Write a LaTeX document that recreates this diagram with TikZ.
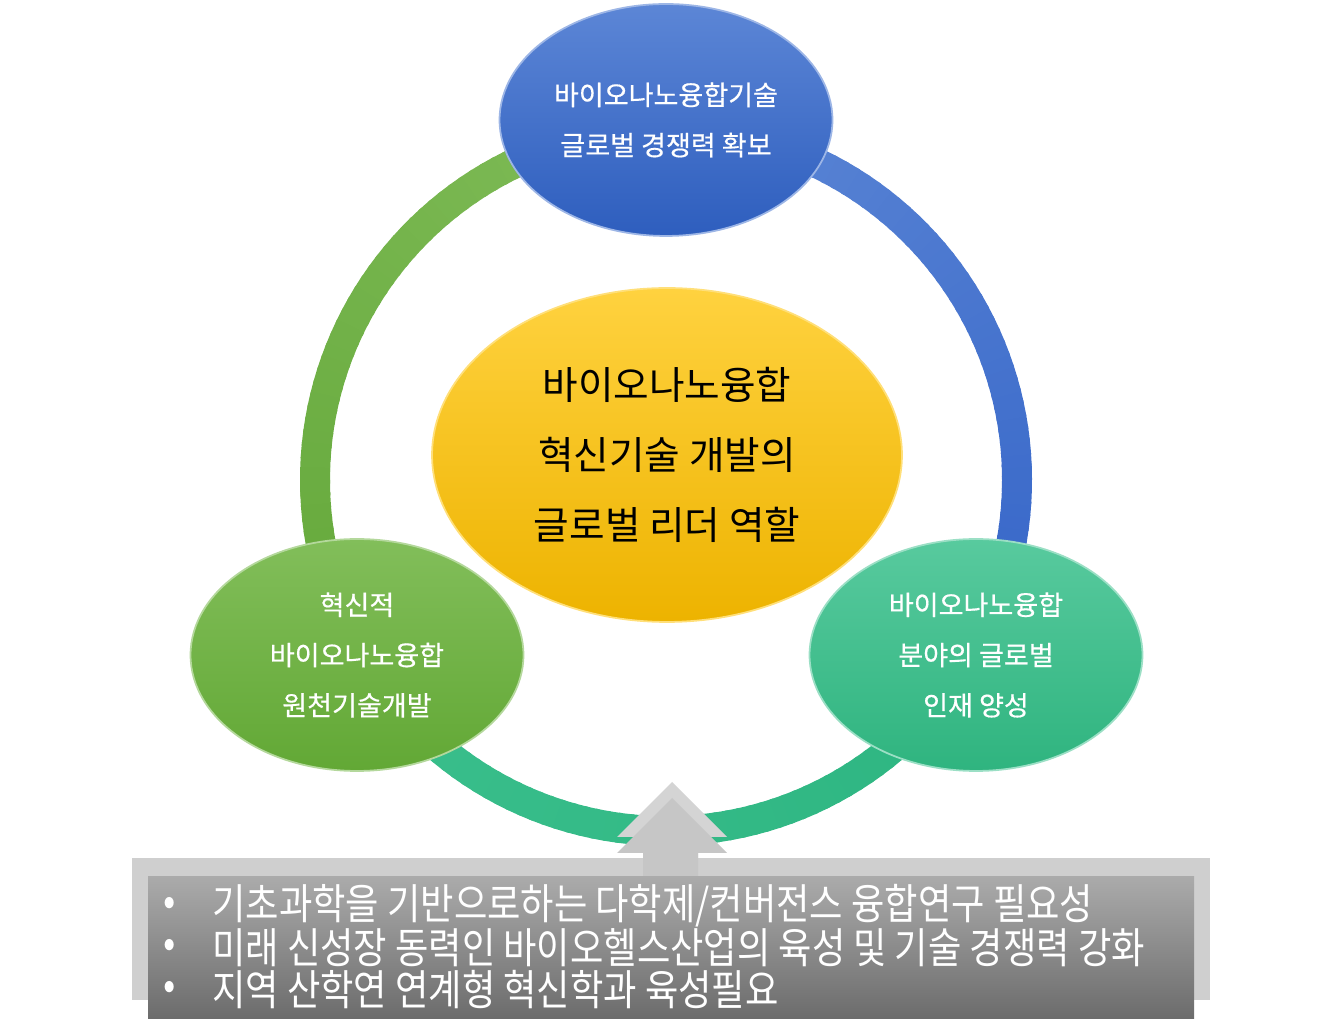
\documentclass[tikz,border=0pt]{standalone}
\usepackage{fontspec}
\setmainfont{Noto Sans CJK KR}
\newfontfamily\narrowkr[FakeStretch=0.86]{Noto Sans CJK KR}
\newfontfamily\boldkr[FakeBold=0.5]{Noto Sans CJK KR}
\usetikzlibrary{shapes.geometric}
\definecolor{topA}{HTML}{5C86D6}
\definecolor{topB}{HTML}{2E5EBE}
\definecolor{leftA}{HTML}{82BE5A}
\definecolor{leftB}{HTML}{62A835}
\definecolor{rightA}{HTML}{58CA9E}
\definecolor{rightB}{HTML}{2FB47F}
\definecolor{midA}{HTML}{FFD23F}
\definecolor{midB}{HTML}{EDB300}
\definecolor{ringG1}{HTML}{80BC58}
\definecolor{ringG2}{HTML}{64A83A}
\definecolor{ringT1}{HTML}{3ABF8C}
\definecolor{ringT2}{HTML}{2DB581}
\definecolor{ringB1}{HTML}{3565C8}
\definecolor{ringB2}{HTML}{5E88D6}
\definecolor{boxLight}{HTML}{CFCFCF}
\definecolor{boxTop}{HTML}{ABABAB}
\definecolor{boxBot}{HTML}{6C6C6C}
\definecolor{arrowBack}{HTML}{D4D4D4}
\definecolor{arrowFront}{HTML}{C6C6C6}
\tikzset{
  blob/.style={ellipse, inner sep=0pt, align=center, text=white,
    font=\boldkr\fontsize{15.4pt}{28.6pt}\selectfont},
  smallblob/.style={blob, minimum width=6.66cm, minimum height=4.64cm},
  topblob/.style={smallblob, top color=topA, bottom color=topB, draw=topA!60!white, line width=1pt},
  leftblob/.style={smallblob, top color=leftA, bottom color=leftB, draw=leftA!60!white, line width=1pt},
  rightblob/.style={smallblob, top color=rightA, bottom color=rightB, draw=rightA!60!white, line width=1pt},
  midblob/.style={ellipse, inner sep=0pt, align=center, text=black,
    minimum width=9.4cm, minimum height=6.68cm,
    top color=midA, bottom color=midB, draw=midA!70!white, line width=1pt,
    font=\fontsize{22pt}{39.7pt}\selectfont},
  bullettext/.style={anchor=west, inner sep=0pt, text=white,
    font=\narrowkr\fontsize{24pt}{26pt}\selectfont},
  ringseg/.style={line width=0.6cm}
}
\begin{document}
\begin{tikzpicture}[x=0.02cm,y=0.02cm]
\useasboundingbox (0,0) rectangle (1334,1034);
\coordinate (rc) at (666,554);
% ring: green (left), teal (bottom), blue (right)
\foreach \a in {90,92,...,210}{
  \pgfmathsetmacro\p{(\a-90)/120*100}
  \draw[ringseg, color=ringG2!\p!ringG1] (rc) ++(\a:351) arc[start angle=\a, end angle=\a+2.6, radius=351];
}
\foreach \a in {210,212,...,330}{
  \pgfmathsetmacro\p{(\a-210)/120*100}
  \draw[ringseg, color=ringT2!\p!ringT1] (rc) ++(\a:351) arc[start angle=\a, end angle=\a+2.6, radius=351];
}
\foreach \a in {-30,-28,...,90}{
  \pgfmathsetmacro\p{(\a+30)/120*100}
  \draw[ringseg, color=ringB2!\p!ringB1] (rc) ++(\a:351) arc[start angle=\a, end angle=\a+2.6, radius=351];
}
% ellipses
\node[topblob] (top) at (666,914) {바이오나노융합기술\\글로벌 경쟁력 확보};
\node[midblob] (mid) at (667,579) {바이오나노융합\\혁신기술 개발의\\글로벌 리더 역할};
\node[leftblob] (left) at (357,379) {혁신적\\바이오나노융합\\원천기술개발};
\node[rightblob] (right) at (976,379) {바이오나노융합\\분야의 글로벌\\인재 양성};
% arrow (two layers)
\fill[arrowBack] (617,197) -- (672,252) -- (727,197) -- (698,197) -- (698,174) -- (643,174) -- (643,197) -- cycle;
% bottom boxes
\fill[boxLight] (132,34) rectangle (1210,176);
\fill[arrowFront] (617,181) -- (672,236) -- (727,181) -- (698,181) -- (698,158) -- (643,158) -- (643,181) -- cycle;
\shade[top color=boxTop, bottom color=boxBot] (148,16) rectangle (1194,158);
\node[bullettext] (b1) at (163,128) {•};
\node[bullettext] (b2) at (163,86) {•};
\node[bullettext] (b3) at (163,44) {•};
\node[bullettext] (t1) at (212,128) {기초과학을 기반으로하는 다학제/컨버전스 융합연구 필요성};
\node[bullettext] (t2) at (212,86) {미래 신성장 동력인 바이오헬스산업의 육성 및 기술 경쟁력 강화};
\node[bullettext] (t3) at (212,44) {지역 산학연 연계형 혁신학과 육성필요};
\end{tikzpicture}
\end{document}
